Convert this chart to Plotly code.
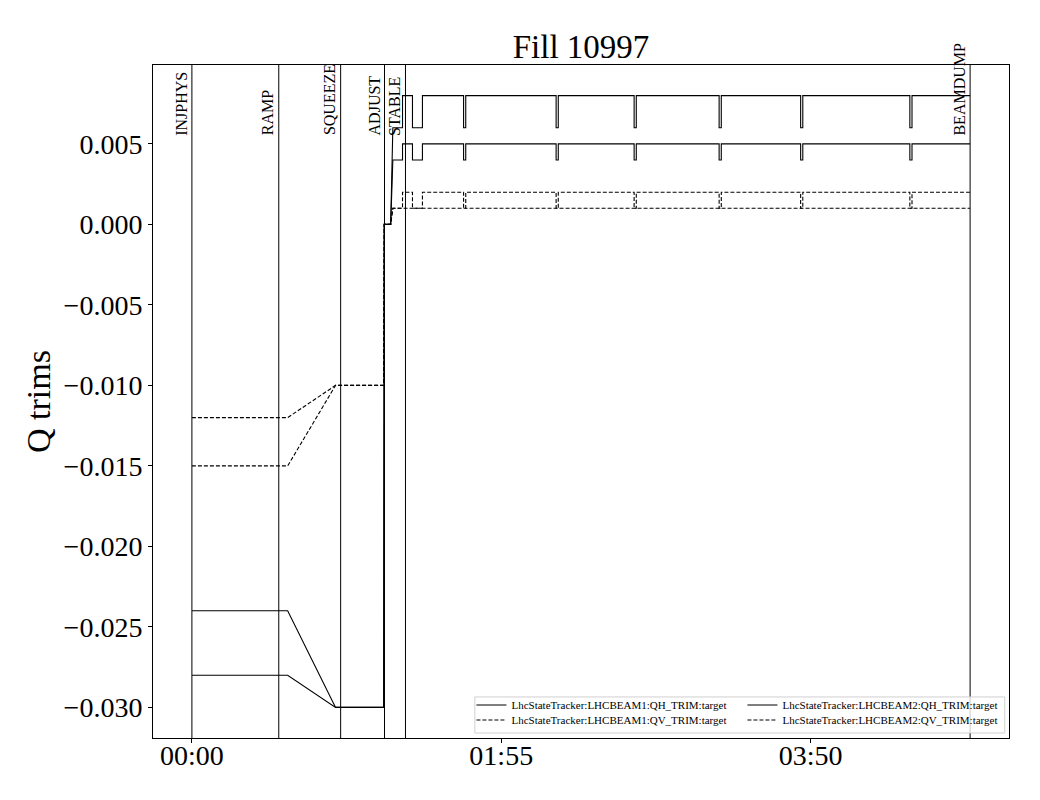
import plotly.graph_objects as go

# ---------------- data (minutes since INJPHYS) ----------------
event_names = ["INJPHYS", "RAMP", "SQUEEZE", "ADJUST", "STABLE", "BEAMDUMP"]
event_times = [0.0, 32.3, 55.3, 71.6, 79.4, 289.3]

t_qh = [0, 35.6, 53.4, 71.3, 71.5, 73.9, 74.7, 78.3, 78.3, 82.0, 82.0, 85.7, 85.7,
        101.0, 101.0, 101.8, 101.8, 135.4, 135.4, 136.2, 136.2,
        164.4, 164.4, 165.2, 165.2, 196.0, 196.0, 196.8, 196.8,
        226.3, 226.3, 227.1, 227.1, 266.9, 266.9, 267.7, 267.7, 289.3]

b1_qh = [-0.024, -0.024, -0.030, -0.030, 0.000, 0.000, 0.006, 0.006, 0.008, 0.008, 0.006, 0.006, 0.008,
         0.008, 0.006, 0.006, 0.008, 0.008, 0.006, 0.006, 0.008,
         0.008, 0.006, 0.006, 0.008, 0.008, 0.006, 0.006, 0.008,
         0.008, 0.006, 0.006, 0.008, 0.008, 0.006, 0.006, 0.008, 0.008]

b2_qh = [-0.028, -0.028, -0.030, -0.030, 0.000, 0.000, 0.004, 0.004, 0.005, 0.005, 0.004, 0.004, 0.005,
         0.005, 0.004, 0.004, 0.005, 0.005, 0.004, 0.004, 0.005,
         0.005, 0.004, 0.004, 0.005, 0.005, 0.004, 0.004, 0.005,
         0.005, 0.004, 0.004, 0.005, 0.005, 0.004, 0.004, 0.005, 0.005]

b1_qv = [-0.012, -0.012, -0.010, -0.010, 0.000, 0.000, 0.001, 0.001, 0.002, 0.002, 0.001, 0.001, 0.002,
         0.002, 0.001, 0.001, 0.002, 0.002, 0.001, 0.001, 0.002,
         0.002, 0.001, 0.001, 0.002, 0.002, 0.001, 0.001, 0.002,
         0.002, 0.001, 0.001, 0.002, 0.002, 0.001, 0.001, 0.002, 0.002]

t_b2_qv = [0, 35.6, 53.4, 71.3, 71.5, 73.9, 74.7, 289.3]
b2_qv = [-0.015, -0.015, -0.010, -0.010, 0.000, 0.000, 0.001, 0.001]

x_tickvals = [0, 115, 230]
x_ticktext = ["00:00", "01:55", "03:50"]
y_tickvals = [0.005, 0.0, -0.005, -0.010, -0.015, -0.020, -0.025, -0.030]
y_ticktext = ["0.005", "0.000", "\u22120.005", "\u22120.010", "\u22120.015",
              "\u22120.020", "\u22120.025", "\u22120.030"]

FONT = "Liberation Serif"

fig = go.Figure()
# row legends: "legend" = QH row, "legend2" = QV row
series = [
    ("LhcStateTracker:LHCBEAM1:QH_TRIM:target", t_qh, b1_qh, "solid", "legend"),
    ("LhcStateTracker:LHCBEAM2:QH_TRIM:target", t_qh, b2_qh, "solid", "legend"),
    ("LhcStateTracker:LHCBEAM1:QV_TRIM:target", t_qh, b1_qv, "4px,2px", "legend2"),
    ("LhcStateTracker:LHCBEAM2:QV_TRIM:target", t_b2_qv, b2_qv, "4px,2px", "legend2"),
]
for name, tx, vy, dash, lg in series:
    fig.add_trace(go.Scatter(x=tx, y=vy, mode="lines", name=name,
                             line=dict(color="black", width=1.1, dash=dash),
                             legend=lg))

for nm, tm in zip(event_names, event_times):
    fig.add_shape(type="line", xref="x", yref="paper", x0=tm, x1=tm, y0=0, y1=1,
                  line=dict(color="black", width=1), layer="above")
    fig.add_annotation(x=tm, y=0.0054, xref="x", yref="y", text=nm, textangle=-90,
                       xanchor="right", yanchor="bottom", showarrow=False,
                       font=dict(family=FONT, size=16, color="black"))

# legend frame
fig.add_shape(type="rect", xref="paper", yref="paper",
              x0=0.376, x1=0.995, y0=0.0074, y1=0.061,
              line=dict(color="#d0d0d0", width=1),
              fillcolor="rgba(255,255,255,0.8)", layer="above")

leg_common = dict(x=0.372, xanchor="left", yanchor="middle", orientation="h",
                  bgcolor="rgba(0,0,0,0)", font=dict(family=FONT, size=11, color="black"),
                  itemwidth=30, entrywidth=226, entrywidthmode="pixels")

fig.update_layout(
    width=1040, height=800,
    margin=dict(l=145, r=39, t=57, b=70),
    paper_bgcolor="white", plot_bgcolor="white",
    font=dict(family=FONT, color="black"),
    title=dict(text="Fill 10997", x=0.551, xanchor="center", y=0.9525, yanchor="middle",
               font=dict(family=FONT, size=33, color="black")),
    legend=dict(y=0.049, **leg_common),
    legend2=dict(y=0.0267, **leg_common),
    showlegend=True,
)
fig.update_xaxes(range=[-14.46, 303.76], showgrid=False, zeroline=False,
                 tickvals=x_tickvals, ticktext=x_ticktext,
                 ticks="outside", ticklen=4, tickwidth=1, tickcolor="black",
                 ticklabelstandoff=-12,
                 showline=True, linecolor="black", linewidth=1, mirror=True,
                 tickfont=dict(family=FONT, size=28, color="black"))
fig.update_yaxes(range=[-0.0319, 0.0099], showgrid=False, zeroline=False,
                 tickvals=y_tickvals, ticktext=y_ticktext,
                 ticks="outside", ticklen=4, tickwidth=1, tickcolor="black",
                 showline=True, linecolor="black", linewidth=1, mirror=True,
                 tickfont=dict(family=FONT, size=28, color="black"),
                 title=dict(text="Q trims", font=dict(family=FONT, size=34, color="black"),
                            standoff=2))

fig.write_html("out.html")
